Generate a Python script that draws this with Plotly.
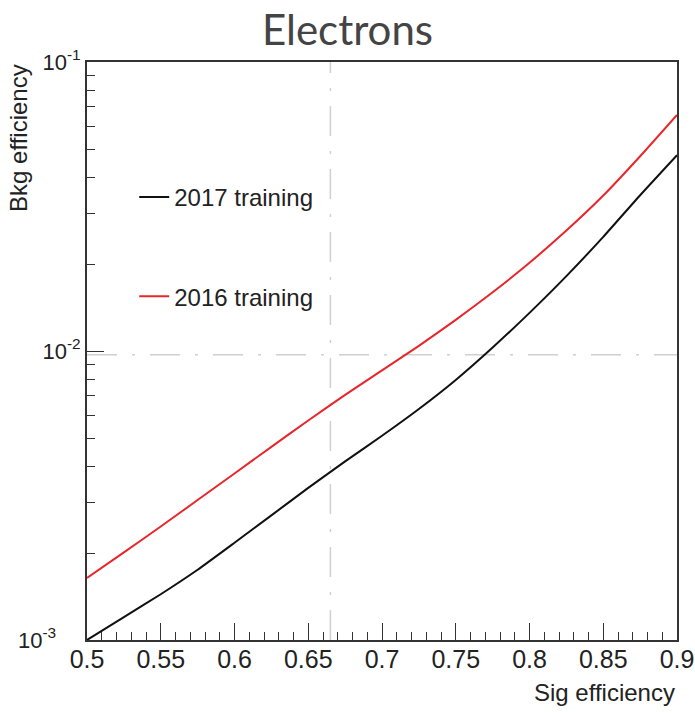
import plotly.graph_objects as go

# ROC-like curves
sig_eff = [0.500, 0.525, 0.550, 0.575, 0.600, 0.625, 0.650, 0.675, 0.700,
           0.725, 0.750, 0.775, 0.800, 0.825, 0.850, 0.875, 0.900]
bkg_eff_2017 = [0.00100, 0.00120, 0.00144, 0.00175, 0.00217, 0.00270, 0.00336, 0.00415, 0.00509,
                0.00630, 0.00794, 0.01028, 0.01355, 0.01816, 0.02483, 0.0346, 0.0476]
bkg_eff_2016 = [0.00164, 0.00201, 0.00247, 0.00305, 0.00377, 0.00466, 0.00575, 0.00705, 0.00857,
                0.01042, 0.01282, 0.01596, 0.0202, 0.0261, 0.0345, 0.0472, 0.0656]

series_names = ["2017 training", "2016 training"]

working_point_sig = 0.665
working_point_bkg = 0.0097

x_ticks = [0.5, 0.55, 0.6, 0.65, 0.7, 0.75, 0.8, 0.85, 0.9]
x_tick_text = ["0.5", "0.55", "0.6", "0.65", "0.7", "0.75", "0.8", "0.85", "0.9"]
y_ticks = [0.001, 0.01, 0.1]
y_tick_text = ["10<sup>-3</sup>\u00a0\u00a0\u00a0\u00a0", "10<sup>-2</sup>", "10<sup>-1</sup>"]
y_minor = [m * 10.0 ** e for e in (-3, -2) for m in range(2, 10)]

fig = go.Figure()
fig.add_trace(go.Scatter(x=sig_eff, y=bkg_eff_2017, mode="lines", name=series_names[0],
                         line=dict(color="#111111", width=2, shape="spline", smoothing=0.5),
                         legendgroup="a"))
fig.add_trace(go.Scatter(x=sig_eff, y=bkg_eff_2016, mode="lines", name=series_names[1],
                         line=dict(color="#e8262b", width=2, shape="spline", smoothing=0.5),
                         legendgroup="b"))

dash = "30px,15px,3px,15px"
fig.add_shape(type="line", xref="x", yref="paper", x0=working_point_sig, x1=working_point_sig,
              y0=0, y1=1, line=dict(color="#d0d0d0", width=1.5, dash=dash), layer="below")
fig.add_shape(type="line", xref="paper", yref="y", x0=0, x1=1,
              y0=working_point_bkg, y1=working_point_bkg,
              line=dict(color="#d0d0d0", width=1.5, dash=dash), layer="below")

sans = "Liberation Sans, Arial, Helvetica, sans-serif"
fig.update_layout(
    width=695, height=713,
    margin=dict(l=87, r=18, t=62, b=73, autoexpand=False),
    paper_bgcolor="white", plot_bgcolor="white",
    showlegend=True,
    legend=dict(x=0.08, y=0.8045, xanchor="left", yanchor="top",
                font=dict(family=sans, size=24, color="#222"),
                bgcolor="rgba(0,0,0,0)", tracegroupgap=65, itemwidth=30),
    title=dict(text="Electrons", x=0.5, xanchor="center", y=0.958, yanchor="middle",
               font=dict(family="Lato, Open Sans, sans-serif", size=42, color="#444")),
    xaxis=dict(range=[0.5, 0.9], tickvals=x_ticks, ticktext=x_tick_text, automargin=False,
               ticks="inside", ticklen=17, tickwidth=1, tickcolor="#333", ticklabelstandoff=-4,
               minor=dict(dtick=0.01, ticks="inside", ticklen=8, tickwidth=1, tickcolor="#333", showgrid=False),
               showline=True, linecolor="#333", linewidth=2, mirror=True,
               showgrid=False, zeroline=False,
               tickfont=dict(family=sans, size=25, color="#222")),
    yaxis=dict(type="log", range=[-3, -1], tickvals=y_ticks, ticktext=y_tick_text, automargin=False,
               ticks="inside", ticklen=17, tickwidth=1, tickcolor="#333",
               minor=dict(tickvals=y_minor, ticks="inside", ticklen=8, tickwidth=1, tickcolor="#333", showgrid=False),
               showline=True, linecolor="#333", linewidth=2, mirror=True,
               showgrid=False, zeroline=False,
               tickfont=dict(family=sans, size=22, color="#222")),
)

fig.add_annotation(text="Bkg efficiency", xref="paper", yref="paper", x=-0.117, y=1.0,
                   xanchor="center", yanchor="top", textangle=-90, showarrow=False,
                   font=dict(family=sans, size=24, color="#222"))
fig.add_annotation(text="Sig efficiency", xref="paper", yref="paper", x=1.0, y=-0.09,
                   xanchor="right", yanchor="middle", showarrow=False,
                   font=dict(family=sans, size=24, color="#222"))

fig.write_html("out.html", config={"displayModeBar": False},
               post_script="document.body.style.margin='0';")
